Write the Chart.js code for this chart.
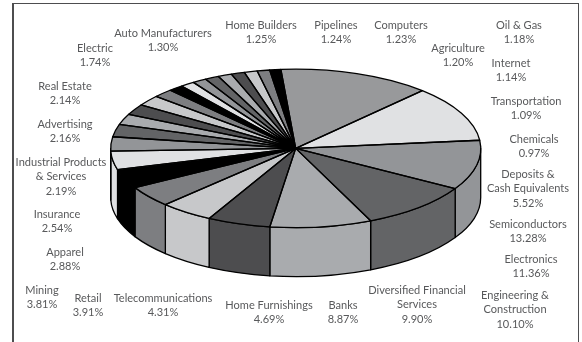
<!DOCTYPE html>
<html lang="en">

<head>
    <meta charset="UTF-8">
    <title>Portfolio by Industry</title>
    <script src="https://cdn.jsdelivr.net/npm/chart.js"></script>
    <style>
        html, body {
            margin: 0;
            background-color: #ffffff;
        }

        #frame {
            position: absolute;
            left: 12px;
            top: 3px;
            width: 564px;
            height: 339px;
            border: solid #4d4d4f;
            border-width: 1px 1px 0 2px;
        }

        canvas {
            position: absolute;
            left: 0;
            top: 0;
        }
    </style>
</head>

<body>
    <div id="frame"></div>
    <canvas id="industryPie" width="582" height="342"></canvas>

    <script>
        const categories = [
            'Semiconductors', 'Electronics', 'Engineering &\nConstruction',
            'Diversified Financial\nServices', 'Banks', 'Deposits &\nCash Equivalents',
            'Home Furnishings', 'Telecommunications', 'Retail', 'Mining', 'Apparel',
            'Insurance', 'Industrial Products\n& Services', 'Advertising', 'Real Estate',
            'Electric', 'Auto Manufacturers', 'Home Builders', 'Pipelines', 'Computers',
            'Agriculture', 'Oil & Gas', 'Internet', 'Transportation', 'Chemicals'
        ];
        const shares = [
            13.28, 11.36, 10.10, 9.90, 8.87, 5.52, 4.69, 4.31, 3.91, 3.81, 2.88, 2.54,
            2.19, 2.16, 2.14, 1.74, 1.30, 1.25, 1.24, 1.23, 1.20, 1.18, 1.14, 1.09, 0.97
        ];
        const sliceColors = [
            '#98999b', '#e0e1e3', '#939598', '#636466', '#a9abae', '#4d4d4f', '#c7c8ca', '#7d7e81', '#000000',
            '#e0e1e3', '#939598', '#636466', '#a9abae', '#4d4d4f', '#c7c8ca', '#7d7e81', '#000000',
            '#e0e1e3', '#939598', '#636466', '#a9abae', '#4d4d4f', '#c7c8ca', '#7d7e81', '#000000'
        ];

        // label centres, first line of each block
        const labelX = [
            528, 531, 515, 417, 343, 528, 269, 163, 88, 42, 65, 57, 61, 65, 65,
            95, 163, 261, 336, 401, 458, 519, 511, 526, 534
        ];
        const labelY = [
            224, 259, 295, 290, 305, 174, 305, 298, 298, 290, 252, 214, 162, 124, 86,
            48, 33, 25, 25, 25, 48, 25, 63, 101, 139
        ];

        // the tilted disc
        const CX = 295.7, CY = 148.4, RX = 185, RY = 79.2, DEPTH = 49;
        const LINE_H = 14.5;
        const TEXT_SQUEEZE = 0.92;

        // squash the round pie into an ellipse, keeps the pen width even when stroked later
        function tilt(ctx, arc) {
            ctx.translate(CX, CY);
            ctx.scale(RX / arc.outerRadius, RY / arc.outerRadius);
            ctx.translate(-arc.x, -arc.y);
        }

        const pie3d = {
            id: 'pie3d',
            beforeDatasetsDraw(chart) {
                const ctx = chart.ctx;
                const arcs = chart.getDatasetMeta(0).data;
                ctx.save();
                ctx.lineWidth = 1.3;
                ctx.strokeStyle = '#000';
                ctx.lineJoin = 'round';

                // side wall, only the part of each slice that faces front
                arcs.forEach(arc => {
                    [0, 2 * Math.PI].forEach(turn => {
                        const a = Math.max(arc.startAngle, turn);
                        const b = Math.min(arc.endAngle, turn + Math.PI);
                        if (a >= b) return;
                        ctx.beginPath();
                        ctx.ellipse(CX, CY, RX, RY, 0, a, b);
                        ctx.ellipse(CX, CY + DEPTH, RX, RY, 0, b, a, true);
                        ctx.closePath();
                        ctx.fillStyle = arc.options.backgroundColor;
                        ctx.fill();
                        ctx.stroke();
                    });
                });
                ctx.restore();

                ctx.save();
                tilt(ctx, arcs[0]);
            },
            afterDatasetsDraw(chart) {
                const ctx = chart.ctx;
                const arcs = chart.getDatasetMeta(0).data;
                ctx.restore();

                // slice outlines on the top face
                ctx.save();
                ctx.lineWidth = 1.3;
                ctx.strokeStyle = '#000';
                ctx.lineJoin = 'round';
                arcs.forEach(arc => {
                    ctx.beginPath();
                    ctx.moveTo(CX, CY);
                    ctx.ellipse(CX, CY, RX, RY, 0, arc.startAngle, arc.endAngle);
                    ctx.closePath();
                    ctx.stroke();
                });
                ctx.restore();

                // labels, narrowed a little sideways
                ctx.save();
                ctx.font = '12px Lato';
                ctx.fillStyle = '#58595b';
                ctx.textAlign = 'center';
                ctx.textBaseline = 'middle';
                categories.forEach((name, i) => {
                    const lines = name.split('\n').concat(shares[i].toFixed(2) + '%');
                    lines.forEach((line, j) => {
                        ctx.save();
                        ctx.translate(labelX[i], labelY[i] + j * LINE_H);
                        ctx.scale(TEXT_SQUEEZE, 1);
                        ctx.fillText(line, 0, 0);
                        ctx.restore();
                    });
                });
                ctx.restore();
            }
        };

        new Chart(document.getElementById('industryPie'), {
            type: 'pie',
            data: {
                labels: categories,
                datasets: [{
                    data: shares,
                    backgroundColor: sliceColors,
                    borderWidth: 0,
                    hoverOffset: 0,
                    clip: false
                }]
            },
            options: {
                responsive: false,
                animation: false,
                events: [],
                rotation: -4.6,
                plugins: {
                    legend: { display: false },
                    tooltip: { enabled: false }
                }
            },
            plugins: [pie3d]
        });
    </script>
</body>

</html>
